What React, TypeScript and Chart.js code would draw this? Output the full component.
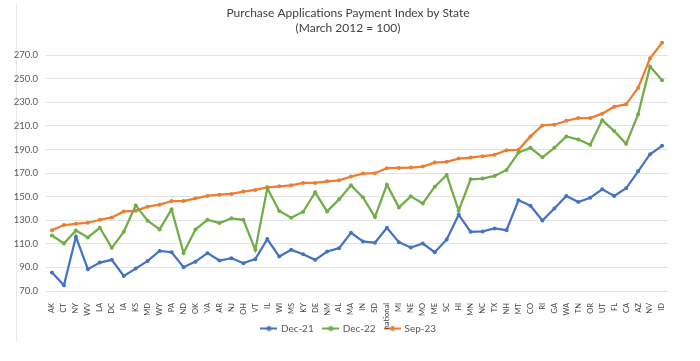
import React, { useEffect, useRef } from "react";
import { Chart, registerables } from "chart.js";

Chart.register(...registerables);

const states = ["AK","CT","NY","WV","LA","DC","IA","KS","MD","WY","PA","ND","OK","VA","AR","NJ","OH","VT","IL","WI","MS","KY","DE","NM","AL","MA","IN","SD","national","MI","NE","MO","ME","SC","HI","MN","NC","TX","NH","MT","CO","RI","GA","WA","TN","OR","UT","FL","CA","AZ","NV","ID"];

const dec21 = [85.6,74.8,116,88.5,94.1,96.4,82.8,89,95.5,104,102.9,90.2,94.9,102.1,95.8,97.8,93.6,97,114,99.2,104.9,101.2,96.4,103.5,106.3,119.4,112,110.9,123.6,111.4,106.9,110.3,102.9,113.7,134.7,120.2,120.5,123,121.6,146.9,142.3,129.8,140,150.6,145.5,149.1,156.2,150.6,157.1,171.5,186,193.1];

const dec22 = [117.1,110.3,121.3,115.4,123.6,106.6,120.2,142.6,129.6,122.2,139.2,102.3,122.2,130.4,127.6,131.6,130.4,104.9,157.1,137.8,132.1,137.2,153.7,137.5,147.7,159.6,149.4,132.7,160.2,140.9,150.3,144.3,158.5,168.4,138.1,164.7,165.3,167.6,172.7,187.4,191.4,183.4,191.4,201.1,198.5,194,214.9,205.6,194.8,219.8,260.4,248.7];

const sep23 = [121.6,125.9,127,127.9,130.4,132.4,137.5,138,141.5,143.2,146.3,146.3,148.6,150.6,151.7,152.3,154.3,155.7,157.9,158.8,159.6,161.6,161.6,163,163.9,167,169.6,169.9,174.1,174.4,174.7,175.5,178.9,179.5,182.3,183.2,184.3,185.5,189.4,189.7,201.1,210.4,211,214.4,216.6,216.6,220.4,226.3,228.3,242.2,267.4,280.5];

const yTickValues = [70, 90, 110, 130, 150, 170, 190, 210, 230, 250, 270];

const seriesNames = ["Dec-21", "Dec-22", "Sep-23"];
const seriesColors = ["#4472C4", "#70AD47", "#ED7D31"];
const titleLines = ["Purchase Applications Payment Index by State", "(March 2012 = 100)"];

function legendIcon(color: string): HTMLCanvasElement {
  const c = document.createElement("canvas");
  c.width = 17;
  c.height = 8;
  const ctx = c.getContext("2d")!;
  ctx.strokeStyle = color;
  ctx.lineWidth = 2;
  ctx.beginPath();
  ctx.moveTo(0, 4);
  ctx.lineTo(17, 4);
  ctx.stroke();
  ctx.fillStyle = color;
  ctx.beginPath();
  ctx.arc(8.5, 4, 2.5, 0, Math.PI * 2);
  ctx.fill();
  return c;
}

const shiftBoxes = {
  id: "shiftBoxes",
  afterLayout(chart: any) {
    const l = chart.legend;
    if (l) {
      l.left += 15;
      l.right += 15;
      l.top -= 17.5;
      l.bottom -= 17.5;
    }
    const t = chart.titleBlock;
    if (t) {
      t.left += 14;
      t.right += 14;
    }
  },
};

export default function App() {
  const ref = useRef<HTMLCanvasElement>(null);

  useEffect(() => {
    if (!ref.current) return;
    const all = [dec21, dec22, sep23];
    const icons = seriesColors.map(legendIcon);
    const chart = new Chart(ref.current, {
      type: "line",
      data: {
        labels: states,
        datasets: all.map((d, i) => ({
          label: seriesNames[i],
          data: d,
          borderColor: seriesColors[i],
          backgroundColor: seriesColors[i],
          borderWidth: 2.25,
          pointRadius: 2,
          pointBorderWidth: 0,
          pointBackgroundColor: seriesColors[i],
          tension: 0,
          fill: false,
        })),
      },
      plugins: [shiftBoxes],
      options: {
        responsive: false,
        animation: false,
        devicePixelRatio: 1,
        layout: { padding: { left: 0, right: 32, top: 0, bottom: 0 } },
        plugins: {
          title: {
            display: true,
            text: titleLines,
            color: "#404040",
            font: { family: "Lato", size: 12, lineHeight: 1.25, weight: "normal" },
            padding: { top: 6, bottom: 5 },
          },
          legend: {
            position: "bottom",
            labels: {
              usePointStyle: true,
              pointStyleWidth: 14,
              color: "#595959",
              font: { family: "Lato", size: 10 },
              padding: 10,
              generateLabels: (ch: any) =>
                ch.data.datasets.map((ds: any, i: number) => ({
                  text: ds.label,
                  fillStyle: seriesColors[i],
                  strokeStyle: seriesColors[i],
                  fontColor: "#595959",
                  pointStyle: icons[i],
                  datasetIndex: i,
                  hidden: false,
                  lineWidth: 0,
                })),
            },
          },
          tooltip: { enabled: false },
        },
        scales: {
          x: {
            type: "category",
            offset: true,
            grid: { display: false },
            border: { display: false },
            ticks: {
              autoSkip: false,
              minRotation: 90,
              maxRotation: 90,
              padding: 4,
              color: "#404040",
              font: { family: "Lato", size: 7.5 },
            },
            afterFit: (s: any) => {
              s.height = 40;
            },
          },
          y: {
            min: 70,
            max: 282,
            grid: { color: "#e3e3e3", lineWidth: 1, drawTicks: false },
            border: { display: false },
            ticks: {
              padding: 8,
              color: "#595959",
              font: { family: "Lato", size: 9.5 },
              callback: (v: any) => Number(v).toFixed(1),
            },
            afterBuildTicks: (s: any) => {
              s.ticks = yTickValues.map((v) => ({ value: v }));
            },
            afterFit: (s: any) => {
              s.width = 46;
            },
          },
        },
      },
    } as any);
    return () => chart.destroy();
  }, []);

  return (
    <div style={{ position: "fixed", left: 0, top: 0, width: 700, height: 361, background: "#fff" }}>
      <div style={{ position: "absolute", left: 16, top: 4, width: 0, height: 337, borderLeft: "1px solid #e8e8e8" }} />
      <canvas ref={ref} width={700} height={361} style={{ position: "absolute", left: 0, top: 0 }} />
    </div>
  );
}
